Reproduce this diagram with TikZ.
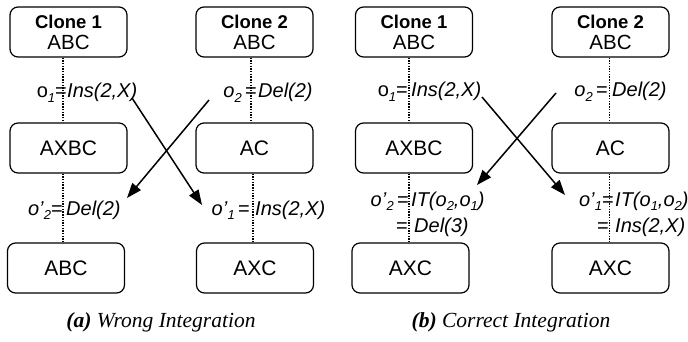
\documentclass[tikz,border=0pt]{standalone}
\usepackage{fontspec}
\setmainfont{Liberation Sans}
\newfontfamily\capfont{Liberation Serif}
\usetikzlibrary{arrows.meta}
% lowered index digit used in the operation labels
\newcommand\lowidx[1]{\raisebox{-0.4ex}{\fontsize{13}{13}\selectfont #1}}
\newcommand\opo{\textit{o}}
\newcommand\opp{\textit{o\textquoteright}}

\begin{document}
\begin{tikzpicture}[x=1pt,y=-1pt,
  state/.style={draw, rounded corners=8pt, line width=1.2pt,
    minimum width=117pt, minimum height=50pt, inner sep=0pt,
    align=center, font=\fontsize{21}{21}\selectfont},
  dots/.style={line width=1.5pt, dash pattern=on 1.4pt off 1.3pt},
  lbl/.style={inner sep=0pt, font=\fontsize{20}{24}\selectfont},
  lleft/.style={lbl, anchor=base east},
  lright/.style={lbl, anchor=base west, font=\fontsize{20}{24}\selectfont\itshape},
  xfer/.style={line width=1.5pt, -{Triangle[length=15pt,width=11pt]}},
  captext/.style={inner sep=0pt, anchor=base, font=\fontsize{21.5}{24}\selectfont\capfont}
]
\useasboundingbox (0,0) rectangle (688,342);

% ---------------- (a) wrong integration ----------------
\node[state] (c1a) at (68.5,32) {\fontsize{18.5}{21}\selectfont\textbf{Clone 1}\\\fontsize{20.5}{21}\selectfont ABC};
\node[state] (c2a) at (254.5,32) {\fontsize{18.5}{21}\selectfont\textbf{Clone 2}\\\fontsize{20.5}{21}\selectfont ABC};
\node[state] (m1a) at (68.5,148) {AXBC};
\node[state] (m2a) at (254.5,148) {AC};
\node[state] (b1a) at (66,268) {ABC};
\node[state] (b2a) at (255,268) {AXC};

\coordinate (xa1) at (63,0);
\coordinate (xa2) at (251,0);
\coordinate (xa3) at (253,0);
\draw[dots] (c1a.south -| xa1) -- (m1a.north -| xa1);
\draw[dots] (m1a.south -| xa1) -- (b1a.north -| xa1);
\draw[dots] (c2a.south -| xa2) -- (m2a.north -| xa2);
\draw[dots] (m2a.south -| xa3) -- (b2a.north -| xa3);

\node[lleft]  (o1aL) at (67,98) {o\lowidx{\itshape 1}=};
\node[lright] (o1aR) at (67,98) {Ins(2,X)};
\node[lleft]  (o2aL) at (257,98) {\opo\lowidx{\itshape 2}\,=};
\node[lright] (o2aR) at (258,98) {Del(2)};
\node[lleft]  (p2aL) at (63,215) {\opp\lowidx{\itshape 2}=};
\node[lright] (p2aR) at (66,215) {Del(2)};
\node[lleft]  (p1aL) at (250,215) {\opp\lowidx{\itshape 1}\,=};
\node[lright] (p1aR) at (255,215) {Ins(2,X)};

\coordinate (s1a) at (132,98);
\coordinate (t1a) at (202,205);
\coordinate (s2a) at (209,100);
\coordinate (t2a) at (127,198);
\draw[xfer] (s1a) -- (t1a);
\draw[xfer] (s2a) -- (t2a);

\node[captext] (capa) at (161,327) {\textbf{\textit{(a)}} \textit{Wrong Integration}};

% ---------------- (b) correct integration ----------------
\node[state] (c1b) at (414,32) {\fontsize{18.5}{21}\selectfont\textbf{Clone 1}\\\fontsize{20.5}{21}\selectfont ABC};
\node[state] (c2b) at (610.5,32) {\fontsize{18.5}{21}\selectfont\textbf{Clone 2}\\\fontsize{20.5}{21}\selectfont ABC};
\node[state] (m1b) at (414,148) {AXBC};
\node[state] (m2b) at (610.5,148) {AC};
\node[state] (b1b) at (410.5,268) {AXC};
\node[state] (b2b) at (610.5,268) {AXC};

\coordinate (xb1) at (409,0);
\coordinate (xb2) at (609.5,0);
\draw[dots] (c1b.south -| xb1) -- (m1b.north -| xb1);
\draw[dots] (m1b.south -| xb1) -- (b1b.north -| xb1);
\draw[dots] (c2b.south -| xb2) -- (m2b.north -| xb2);
\draw[dots] (m2b.south -| xb2) -- (b2b.north -| xb2);

\node[lleft]  (o1bL) at (408,97) {o\lowidx{\itshape 1}=};
\node[lright] (o1bR) at (411,97) {Ins(2,X)};
\node[lleft]  (o2bL) at (608,97) {\opo\lowidx{\itshape 2}\,=};
\node[lright] (o2bR) at (612,97) {Del(2)};

\node[lleft]  (p2bL) at (409,206) {\opp\lowidx{\itshape 2}\,=};
\node[lright] (p2bR) at (411,206) {IT(o\lowidx{2},o\lowidx{1})};
\node[lleft]  (q2bL) at (408,232) {=};
\node[lright] (q2bR) at (414,232) {Del(3)};

\node[lleft]  (p1bL) at (614,206) {\opp\lowidx{\itshape 1}=};
\node[lright] (p1bR) at (615,206) {IT(o\lowidx{1},o\lowidx{2})};
\node[lleft]  (q1bL) at (609,232) {=};
\node[lright] (q1bR) at (615,232) {Ins(2,X)};

\coordinate (s1b) at (482,97);
\coordinate (t1b) at (565,195);
\coordinate (s2b) at (556,93);
\coordinate (t2b) at (477,185);
\draw[xfer] (s1b) -- (t1b);
\draw[xfer] (s2b) -- (t2b);

\node[captext] (capb) at (511,327) {\textbf{\textit{(b)}} \textit{Correct Integration}};
\end{tikzpicture}
\end{document}
